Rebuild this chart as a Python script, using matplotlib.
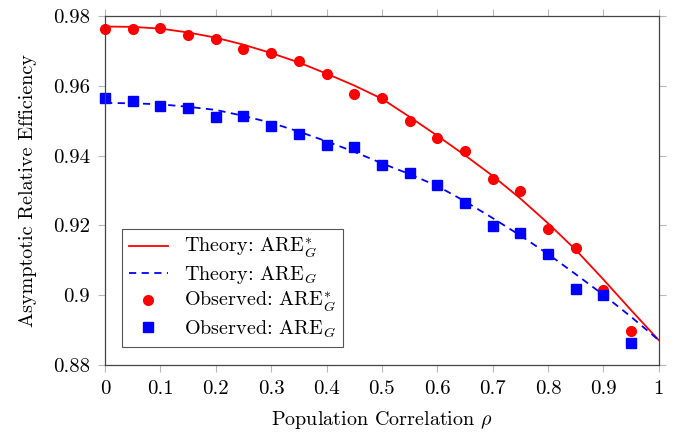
import numpy as np
import matplotlib
matplotlib.use("Agg")
import matplotlib.pyplot as plt

plt.rcParams['mathtext.fontset'] = 'cm'
plt.rcParams['font.family'] = ['cmr10', 'DejaVu Serif']
plt.rcParams['axes.unicode_minus'] = False
plt.rcParams['axes.formatter.use_mathtext'] = True

# observed points
rho_obs = [0.0, 0.05, 0.1, 0.15, 0.2, 0.25, 0.3, 0.35, 0.4, 0.45,
           0.5, 0.55, 0.6, 0.65, 0.7, 0.75, 0.8, 0.85, 0.9, 0.95]
obs_star = [0.9764, 0.9762, 0.9766, 0.9746, 0.9733, 0.9705, 0.9695, 0.9670, 0.9634, 0.9578,
            0.9565, 0.9500, 0.9450, 0.9414, 0.9332, 0.9299, 0.9189, 0.9134, 0.9015, 0.8898]
obs_g = [0.9564, 0.9556, 0.9543, 0.9537, 0.9511, 0.9514, 0.9486, 0.9463, 0.9430, 0.9425,
         0.9374, 0.9349, 0.9316, 0.9265, 0.9198, 0.9177, 0.9117, 0.9019, 0.9001, 0.8862]

# theory curves
rho_th = [0.0, 0.05, 0.1, 0.15, 0.2, 0.25, 0.3, 0.35, 0.4, 0.45, 0.5,
          0.55, 0.6, 0.65, 0.7, 0.75, 0.8, 0.85, 0.9, 0.95, 1.0]
th_star = [0.9770, 0.9769, 0.9764, 0.9753, 0.9738, 0.9718, 0.9694, 0.9667, 0.9635, 0.9601, 0.9563,
           0.9511, 0.9457, 0.9401, 0.9342, 0.9277, 0.9206, 0.9130, 0.9045, 0.8957, 0.8871]
th_g = [0.9551, 0.9550, 0.9547, 0.9540, 0.9531, 0.9514, 0.9494, 0.9469, 0.9441, 0.9411, 0.9378,
        0.9347, 0.9313, 0.9269, 0.9221, 0.9171, 0.9118, 0.9060, 0.9001, 0.8938, 0.8871]

xticks = [0, 0.1, 0.2, 0.3, 0.4, 0.5, 0.6, 0.7, 0.8, 0.9, 1]
xtick_labels = ['0', '0.1', '0.2', '0.3', '0.4', '0.5', '0.6', '0.7', '0.8', '0.9', '1']
yticks = [0.88, 0.90, 0.92, 0.94, 0.96, 0.98]
ytick_labels = ['0.88', '0.9', '0.92', '0.94', '0.96', '0.98']

fig = plt.figure(figsize=(6.82, 4.34), dpi=100)
ax = fig.add_axes([0.154, 0.159, 0.812, 0.804])

ax.plot(rho_th, th_star, color='#ff0000', lw=1.3, label=r'Theory: ARE$^{*}_{G}$')
ax.plot(rho_th, th_g, color='#0000ff', lw=1.3, ls=(0, (4, 3)), label=r'Theory: ARE$_{G}$')
ax.plot(rho_obs, obs_star, 'o', color='#ff0000', ms=7, clip_on=False,
        label=r'Observed: ARE$^{*}_{G}$')
ax.plot(rho_obs, obs_g, 's', color='#0000ff', ms=6.5, clip_on=False,
        label=r'Observed: ARE$_{G}$')

ax.set_xlim(0, 1)
ax.set_ylim(0.88, 0.98)
ax.set_xticks(xticks)
ax.set_xticklabels(xtick_labels)
ax.set_yticks(yticks)
ax.set_yticklabels(ytick_labels)
ax.tick_params(direction='out', length=5, width=0.8, color='#b8b8b8',
               top=True, right=True, labelsize=15, pad=6)

for sp in ax.spines.values():
    sp.set_color('#444444')
    sp.set_linewidth(0.9)

ax.set_xlabel(r'Population Correlation $\rho$', fontsize=14.5, labelpad=8)
ax.set_ylabel('Asymptotic Relative Efficiency', fontsize=14.5, labelpad=11)

leg = ax.legend(loc='lower left', bbox_to_anchor=(0.031, 0.052), borderaxespad=0,
                fontsize=14.5, frameon=True, fancybox=False, handlelength=1.9,
                handletextpad=0.8, labelspacing=0.2, borderpad=0.35)
leg.get_frame().set_edgecolor('#555555')
leg.get_frame().set_linewidth(0.8)
leg.get_frame().set_alpha(1)

fig.savefig('out.png', dpi=100)
